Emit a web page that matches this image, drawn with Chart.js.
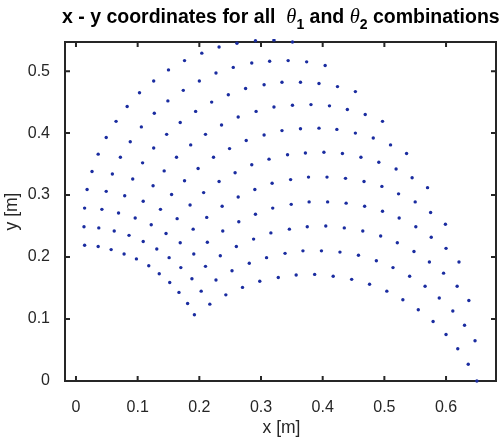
<!DOCTYPE html>
<html>
<head>
<meta charset="utf-8">
<script src="https://cdn.jsdelivr.net/npm/chart.js@4"></script>
<style>
  body { margin: 0; background: #fff; }
  #wrap { width: 502px; height: 439px; }
</style>
</head>
<body>
<div id="wrap"><canvas id="chart"></canvas></div>
<script>
// x [m] / y [m] of the points, one list per theta1 value (19 theta2 values in each)
const x1 = [0.650, 0.636, 0.619, 0.600, 0.579, 0.555, 0.530, 0.504, 0.476, 0.447, 0.417, 0.387, 0.357, 0.328, 0.298, 0.270, 0.243, 0.217, 0.192];
const y1 = [0.000, 0.027, 0.052, 0.075, 0.096, 0.115, 0.131, 0.145, 0.156, 0.164, 0.169, 0.172, 0.171, 0.167, 0.161, 0.151, 0.139, 0.124, 0.107];
const x2 = [0.647, 0.630, 0.611, 0.589, 0.566, 0.541, 0.514, 0.487, 0.458, 0.428, 0.398, 0.368, 0.339, 0.309, 0.281, 0.253, 0.227, 0.203, 0.181];
const y2 = [0.065, 0.090, 0.113, 0.134, 0.153, 0.169, 0.183, 0.194, 0.203, 0.208, 0.210, 0.210, 0.206, 0.199, 0.190, 0.178, 0.163, 0.145, 0.125];
const x3 = [0.637, 0.618, 0.596, 0.573, 0.548, 0.521, 0.494, 0.465, 0.435, 0.405, 0.375, 0.346, 0.316, 0.288, 0.260, 0.234, 0.210, 0.188, 0.167];
const y3 = [0.130, 0.153, 0.174, 0.192, 0.209, 0.223, 0.234, 0.242, 0.247, 0.250, 0.249, 0.245, 0.239, 0.229, 0.217, 0.202, 0.185, 0.165, 0.143];
const x4 = [0.621, 0.600, 0.576, 0.551, 0.524, 0.497, 0.468, 0.438, 0.408, 0.378, 0.349, 0.319, 0.291, 0.264, 0.238, 0.213, 0.191, 0.170, 0.152];
const y4 = [0.192, 0.214, 0.232, 0.249, 0.263, 0.274, 0.282, 0.287, 0.289, 0.289, 0.285, 0.279, 0.269, 0.257, 0.242, 0.224, 0.205, 0.183, 0.159];
const x5 = [0.599, 0.575, 0.550, 0.523, 0.496, 0.467, 0.437, 0.407, 0.377, 0.348, 0.318, 0.290, 0.263, 0.237, 0.212, 0.190, 0.169, 0.151, 0.135];
const y5 = [0.253, 0.272, 0.289, 0.302, 0.314, 0.322, 0.327, 0.329, 0.329, 0.325, 0.319, 0.309, 0.297, 0.282, 0.264, 0.245, 0.223, 0.199, 0.173];
const x6 = [0.570, 0.545, 0.519, 0.491, 0.462, 0.432, 0.402, 0.372, 0.343, 0.313, 0.285, 0.258, 0.232, 0.207, 0.185, 0.164, 0.146, 0.131, 0.118];
const y6 = [0.312, 0.328, 0.342, 0.353, 0.361, 0.367, 0.369, 0.368, 0.365, 0.358, 0.349, 0.336, 0.322, 0.304, 0.284, 0.262, 0.238, 0.213, 0.186];
const x7 = [0.536, 0.510, 0.482, 0.453, 0.423, 0.394, 0.364, 0.334, 0.305, 0.276, 0.249, 0.223, 0.198, 0.176, 0.155, 0.137, 0.122, 0.109, 0.098];
const y7 = [0.367, 0.381, 0.392, 0.400, 0.406, 0.408, 0.407, 0.404, 0.397, 0.388, 0.375, 0.361, 0.343, 0.323, 0.301, 0.277, 0.252, 0.225, 0.197];
const x8 = [0.497, 0.469, 0.440, 0.411, 0.381, 0.351, 0.321, 0.292, 0.263, 0.236, 0.210, 0.186, 0.163, 0.143, 0.125, 0.109, 0.096, 0.086, 0.078];
const y8 = [0.419, 0.430, 0.438, 0.444, 0.446, 0.445, 0.442, 0.435, 0.426, 0.413, 0.398, 0.381, 0.361, 0.339, 0.315, 0.290, 0.263, 0.235, 0.205];
const x9 = [0.453, 0.424, 0.394, 0.364, 0.334, 0.305, 0.275, 0.247, 0.220, 0.194, 0.169, 0.147, 0.126, 0.108, 0.092, 0.079, 0.069, 0.062, 0.057];
const y9 = [0.467, 0.475, 0.480, 0.482, 0.482, 0.478, 0.472, 0.462, 0.450, 0.435, 0.417, 0.398, 0.376, 0.352, 0.326, 0.299, 0.271, 0.242, 0.212];
const x10 = [0.404, 0.374, 0.344, 0.314, 0.285, 0.255, 0.227, 0.200, 0.174, 0.149, 0.127, 0.106, 0.088, 0.072, 0.059, 0.049, 0.042, 0.037, 0.036];
const y10 = [0.509, 0.515, 0.517, 0.516, 0.513, 0.506, 0.497, 0.484, 0.469, 0.452, 0.432, 0.410, 0.386, 0.361, 0.334, 0.306, 0.277, 0.247, 0.217];
const x11 = [0.351, 0.321, 0.291, 0.261, 0.232, 0.204, 0.176, 0.150, 0.126, 0.103, 0.083, 0.065, 0.049, 0.036, 0.026, 0.018, 0.014, 0.013, 0.014];
const y11 = [0.547, 0.550, 0.549, 0.545, 0.539, 0.529, 0.517, 0.502, 0.484, 0.465, 0.443, 0.419, 0.393, 0.366, 0.338, 0.309, 0.279, 0.249, 0.219];

const xTicks = [0, 0.1, 0.2, 0.3, 0.4, 0.5, 0.6];
const yTicks = [0, 0.1, 0.2, 0.3, 0.4, 0.5];

const columns = [[x1, y1], [x2, y2], [x3, y3], [x4, y4], [x5, y5], [x6, y6],
                 [x7, y7], [x8, y8], [x9, y9], [x10, y10], [x11, y11]];
const points = [];
for (const [xs, ys] of columns) {
    for (let i = 0; i < xs.length; i++) points.push({ x: xs[i], y: ys[i] });
}

const axisColor = '#262626';

// box round the axes, ticks pointing inward on all four sides
const axisBox = {
    id: 'axisBox',
    beforeDatasetsDraw(chart) {
        const { ctx, chartArea: a, scales: { x, y } } = chart;
        ctx.save();
        ctx.strokeStyle = axisColor;
        ctx.lineWidth = 2;
        ctx.strokeRect(a.left, a.top, a.right - a.left, a.bottom - a.top);
        ctx.beginPath();
        for (const v of xTicks) {
            const px = x.getPixelForValue(v);
            ctx.moveTo(px, a.bottom); ctx.lineTo(px, a.bottom - 5);
            ctx.moveTo(px, a.top); ctx.lineTo(px, a.top + 5);
        }
        for (const v of yTicks) {
            const py = y.getPixelForValue(v);
            ctx.moveTo(a.left, py); ctx.lineTo(a.left + 5, py);
            ctx.moveTo(a.right, py); ctx.lineTo(a.right - 5, py);
        }
        ctx.stroke();
        ctx.restore();
    }
};

// title (with theta subscripts) and axis labels
const texts = {
    id: 'texts',
    afterDraw(chart) {
        const { ctx, chartArea: a } = chart;
        ctx.save();
        ctx.fillStyle = axisColor;
        ctx.font = '17.5px "Liberation Sans", Arial, sans-serif';
        ctx.textAlign = 'center';
        ctx.textBaseline = 'middle';
        ctx.fillText('x [m]', (a.left + a.right) / 2 + 1, 428);
        ctx.save();
        ctx.translate(12, (a.top + a.bottom) / 2);
        ctx.rotate(-Math.PI / 2);
        ctx.fillText('y [m]', 0, 0);
        ctx.restore();

        const bold = 'bold 19.5px "Liberation Sans", Arial, sans-serif';
        const theta = 'italic 20.5px "Liberation Serif", serif';
        const sub = 'bold 14px "Liberation Sans", Arial, sans-serif';
        const parts = [
            ['x - y coordinates for all  ', bold, 0],
            ['θ', theta, 0],
            ['1', sub, 6],
            [' and ', bold, 0],
            ['θ', theta, 0],
            ['2', sub, 6],
            [' combinations', bold, 0]
        ];
        let cx = 62;
        ctx.fillStyle = '#000';
        ctx.textAlign = 'left';
        ctx.textBaseline = 'alphabetic';
        for (const [t, f, dy] of parts) {
            ctx.font = f;
            ctx.fillText(t, cx, 23 + dy);
            cx += ctx.measureText(t).width;
        }
        ctx.restore();
    }
};

new Chart(document.getElementById('chart'), {
    type: 'scatter',
    data: {
        datasets: [{
            data: points,
            pointRadius: 1.7,
            pointBorderWidth: 0,
            pointBackgroundColor: '#1a2ca0',
            clip: 3
        }]
    },
    options: {
        responsive: true,
        maintainAspectRatio: false,
        animation: false,
        layout: { padding: { top: 42, right: 6, left: 0, bottom: 0 } },
        plugins: { legend: { display: false }, tooltip: { enabled: false } },
        scales: {
            x: {
                type: 'linear',
                min: -0.0178,
                max: 0.681,
                afterBuildTicks: (s) => { s.ticks = xTicks.map(v => ({ value: v })); },
                afterFit: (s) => { s.height = 58; },
                grid: { display: false },
                border: { display: false },
                ticks: {
                    color: axisColor,
                    padding: 9,
                    maxRotation: 0,
                    font: { family: '"Liberation Sans", Arial, sans-serif', size: 16 },
                    callback: (v) => String(v)
                }
            },
            y: {
                type: 'linear',
                min: 0,
                max: 0.547,
                afterBuildTicks: (s) => { s.ticks = yTicks.map(v => ({ value: v })); },
                afterFit: (s) => { s.width = 65; },
                grid: { display: false },
                border: { display: false },
                ticks: {
                    color: axisColor,
                    padding: 7,
                    font: { family: '"Liberation Sans", Arial, sans-serif', size: 16 },
                    callback: (v) => String(v)
                }
            }
        }
    },
    plugins: [axisBox, texts]
});
</script>
</body>
</html>
